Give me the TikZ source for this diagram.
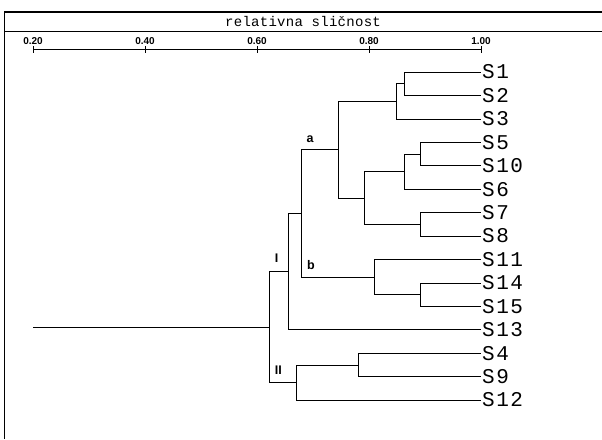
\documentclass[tikz,border=0pt]{standalone}
\usepackage{fontspec}
\setmainfont{Liberation Sans}
\newfontfamily\leaffont[LetterSpace=7]{Liberation Mono}
\newfontfamily\titlefont[LetterSpace=2]{Liberation Mono}

\begin{document}
\begin{tikzpicture}[x=1pt,y=-1pt,
        link/.style={black, line width=0.8pt},
        frame/.style={black, line width=1.2pt},
        leaf/.style={anchor=west, inner sep=1pt, font=\leaffont\fontsize{21pt}{21pt}\selectfont},
        ticklbl/.style={anchor=south, inner sep=1pt, font=\bfseries\fontsize{10pt}{10pt}\selectfont},
        grp/.style={inner sep=0pt, font=\bfseries\fontsize{12.5pt}{12.5pt}\selectfont}]
        \useasboundingbox (0,0) rectangle (602,439);
        % frame and title
        \draw[frame] (602,12) -- (4.7,12) -- (4.7,439);
        \draw[frame] (4.7,31.7) -- (602,31.7);
        \node[font=\titlefont\fontsize{14pt}{14pt}\selectfont] (title) at (303,21) {relativna sličnost};
        % similarity axis
        \coordinate (a20) at (33,49.5);
        \coordinate (a100) at (481,49.5);
        \draw[link] (a20) -- (a100);
        \draw[link] (33,46) -- (33,53);
        \draw[link] (145,46) -- (145,53);
        \draw[link] (257,46) -- (257,53);
        \draw[link] (369,46) -- (369,53);
        \draw[link] (481,46) -- (481,53);
        \node[ticklbl] (t20) at (33,46) {0.20};
        \node[ticklbl] (t40) at (145,46) {0.40};
        \node[ticklbl] (t60) at (257,46) {0.60};
        \node[ticklbl] (t80) at (369,46) {0.80};
        \node[ticklbl] (t100) at (481,46) {1.00};
        % samples
        \node[leaf] (s1) at (481,72) {S1};
        \node[leaf] (s2) at (481,95.4) {S2};
        \node[leaf] (s3) at (481,118.9) {S3};
        \node[leaf] (s5) at (481,142.3) {S5};
        \node[leaf] (s10) at (481,165.7) {S10};
        \node[leaf] (s6) at (481,189.2) {S6};
        \node[leaf] (s7) at (481,212.6) {S7};
        \node[leaf] (s8) at (481,236) {S8};
        \node[leaf] (s11) at (481,259.4) {S11};
        \node[leaf] (s14) at (481,282.9) {S14};
        \node[leaf] (s15) at (481,306.3) {S15};
        \node[leaf] (s13) at (481,329.7) {S13};
        \node[leaf] (s4) at (481,353.2) {S4};
        \node[leaf] (s9) at (481,376.6) {S9};
        \node[leaf] (s12) at (481,400) {S12};
        % junctions
        \coordinate (j12) at (404.3,83.7);
        \coordinate (j123) at (396.7,101.3);
        \coordinate (j510) at (420,154);
        \coordinate (j5106) at (404.3,171.6);
        \coordinate (j78) at (420,224.3);
        \coordinate (j5678) at (364.3,198);
        \coordinate (ja) at (338,149.6);
        \coordinate (j1415) at (420,294.6);
        \coordinate (jb) at (374,277);
        \coordinate (jab) at (301.7,213.3);
        \coordinate (jI) at (288.3,271.5);
        \coordinate (j49) at (358.3,364.9);
        \coordinate (jII) at (296,382.5);
        \coordinate (root) at (269.3,327);
        \coordinate (r0) at (33,327);
        % links
        \draw[link] (j12) |- (s1.west);
        \draw[link] (j12) |- (s2.west);
        \draw[link] (j123) |- (j12);
        \draw[link] (j123) |- (s3.west);
        \draw[link] (j510) |- (s5.west);
        \draw[link] (j510) |- (s10.west);
        \draw[link] (j5106) |- (j510);
        \draw[link] (j5106) |- (s6.west);
        \draw[link] (j78) |- (s7.west);
        \draw[link] (j78) |- (s8.west);
        \draw[link] (j5678) |- (j5106);
        \draw[link] (j5678) |- (j78);
        \draw[link] (ja) |- (j123);
        \draw[link] (ja) |- (j5678);
        \draw[link] (j1415) |- (s14.west);
        \draw[link] (j1415) |- (s15.west);
        \draw[link] (jb) |- (s11.west);
        \draw[link] (jb) |- (j1415);
        \draw[link] (jab) |- (ja);
        \draw[link] (jab) |- (jb);
        \draw[link] (jI) |- (jab);
        \draw[link] (jI) |- (s13.west);
        \draw[link] (j49) |- (s4.west);
        \draw[link] (j49) |- (s9.west);
        \draw[link] (jII) |- (j49);
        \draw[link] (jII) |- (s12.west);
        \draw[link] (root) |- (jI);
        \draw[link] (root) |- (jII);
        \draw[link] (r0) -- (root);
        % cluster labels
        \node[grp] (la) at (310,139) {a};
        \node[grp] (lb) at (311,265) {b};
        \node[grp] (lI) at (276.7,258) {I};
        \node[grp] (lII) at (278.3,370) {II};
    \end{tikzpicture}
\end{document}
